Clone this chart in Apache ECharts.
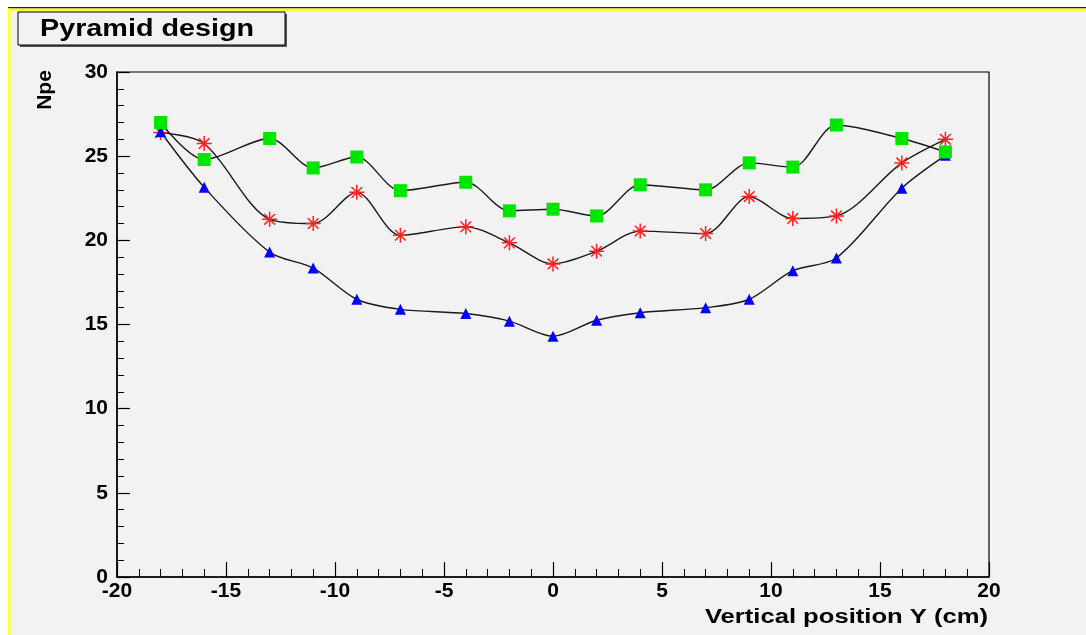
<!DOCTYPE html>
<html lang="en">
<head>
    <meta charset="UTF-8">
    <title>Pyramid design</title>
    <style>
        *{
            margin: 0;
            padding: 0;
        }
        .main{
            width: 1086px;
            height: 635px;
            background: #fff;
        }
    </style>
    <script src="https://cdn.jsdelivr.net/npm/echarts@6/dist/echarts.min.js"></script>
</head>
<body>
<div class="main"></div>
<script>
    // vertical position Y (cm)
    let positions = [-18, -16, -13, -11, -9, -7, -4, -2, 0, 2, 4, 7, 9, 11, 13, 16, 18];
    // Npe for the three curves
    let greenNpe = [27.0, 24.8, 26.05, 24.3, 24.95, 22.95, 23.45, 21.75, 21.85, 21.45, 23.3, 23.0, 24.6, 24.35, 26.85, 26.05, 25.25];
    let redNpe = [26.4, 25.75, 21.25, 21.0, 22.85, 20.3, 20.8, 19.85, 18.6, 19.35, 20.55, 20.4, 22.6, 21.3, 21.45, 24.6, 26.0];
    let blueNpe = [26.45, 23.15, 19.3, 18.35, 16.5, 15.9, 15.65, 15.2, 14.3, 15.25, 15.7, 16.0, 16.5, 18.2, 18.95, 23.1, 25.05];
    let xTicks = {min: -20, max: 20, step: 5};
    let yTicks = {min: 0, max: 30, step: 5};

    let font = '"Liberation Sans", Arial, sans-serif';
    let asterisk = 'path://M-10,-1L10,-1L10,1L-10,1Z' +
        'M-1,-10L1,-10L1,10L-1,10Z' +
        'M-6.36,-7.78L7.78,6.36L6.36,7.78L-7.78,-6.36Z' +
        'M-7.78,6.36L6.36,-7.78L7.78,-6.36L-6.36,7.78Z';

    function pairs(ys){
        return positions.map((x, i) => [x, ys[i]]);
    }

    function curve(name, ys, symbol, size, color){
        return {
            name,
            type: 'line',
            data: pairs(ys),
            smooth: 0.3,
            symbol,
            symbolSize: size,
            showAllSymbol: true,
            lineStyle: {color: '#1a1a1a', width: 1.4},
            itemStyle: {color, borderWidth: 0},
            emphasis: {disabled: true},
            z: 3
        };
    }

    let main = document.querySelector('.main');
    let chart = echarts.init(main);
    let option = {
        backgroundColor: '#ffffff',
        animation: false,
        graphic: [
            {type: 'rect', shape: {x: 9, y: 9, width: 1077, height: 626}, style: {fill: '#f2f2f2'}, z: -10},
            {type: 'rect', shape: {x: 8, y: 7, width: 1078, height: 1.5}, style: {fill: '#222'}, z: -9},
            {type: 'rect', shape: {x: 8, y: 8.5, width: 1078, height: 2.5}, style: {fill: '#ffff33'}, z: -9},
            {type: 'rect', shape: {x: 8, y: 8.5, width: 2.5, height: 627}, style: {fill: '#ffff33'}, z: -9},
            {type: 'rect', shape: {x: 20, y: 14, width: 267, height: 33}, style: {fill: '#555'}, z: -8},
            {type: 'rect', shape: {x: 18, y: 12, width: 267, height: 33}, style: {fill: '#f2f2f2', stroke: '#000', lineWidth: 1}, z: -7},
            {
                type: 'text', left: 40, top: 18, scaleX: 1.25,
                style: {text: 'Pyramid design', font: 'bold 23px ' + font, fill: '#000'}
            },
            {
                type: 'text', x: 45, y: 90, rotation: Math.PI / 2,
                style: {text: 'Npe', font: 'bold 21px ' + font, fill: '#000', align: 'center', verticalAlign: 'middle'}
            },
            {
                type: 'text', x: 988, y: 617, scaleX: 1.28,
                style: {text: 'Vertical position Y (cm)', font: 'bold 20px ' + font, fill: '#000', align: 'right', verticalAlign: 'middle'}
            }
        ],
        grid: {
            left: 117,
            right: 97,
            top: 72,
            bottom: 58,
            show: true,
            borderColor: '#000',
            borderWidth: 1.2,
            backgroundColor: 'transparent'
        },
        xAxis: {
            type: 'value',
            min: xTicks.min,
            max: xTicks.max,
            interval: xTicks.step,
            axisLine: {onZero: false, lineStyle: {color: '#000', width: 1.5}},
            axisTick: {inside: true, length: 15, lineStyle: {color: '#000', width: 1.2}},
            minorTick: {show: true, splitNumber: 5, length: 8, lineStyle: {color: '#000', width: 1}},
            splitLine: {show: false},
            axisLabel: {
                margin: 4,
                color: '#000',
                fontFamily: font,
                fontWeight: 'bold',
                fontSize: 21
            }
        },
        yAxis: {
            type: 'value',
            min: yTicks.min,
            max: yTicks.max,
            interval: yTicks.step,
            axisLine: {onZero: false, lineStyle: {color: '#000', width: 1.5}},
            axisTick: {inside: true, length: 13, lineStyle: {color: '#000', width: 1.2}},
            minorTick: {show: true, splitNumber: 5, length: 7, lineStyle: {color: '#000', width: 1}},
            splitLine: {show: false},
            axisLabel: {
                margin: 9,
                color: '#000',
                fontFamily: font,
                fontWeight: 'bold',
                fontSize: 21
            }
        },
        series: [
            curve('red', redNpe, asterisk, 15, '#ff2020'),
            curve('blue', blueNpe, 'triangle', 11, '#0000ff'),
            curve('green', greenNpe, 'rect', 13, '#00e600')
        ]
    };
    chart.setOption(option);
</script>
</body>
</html>
